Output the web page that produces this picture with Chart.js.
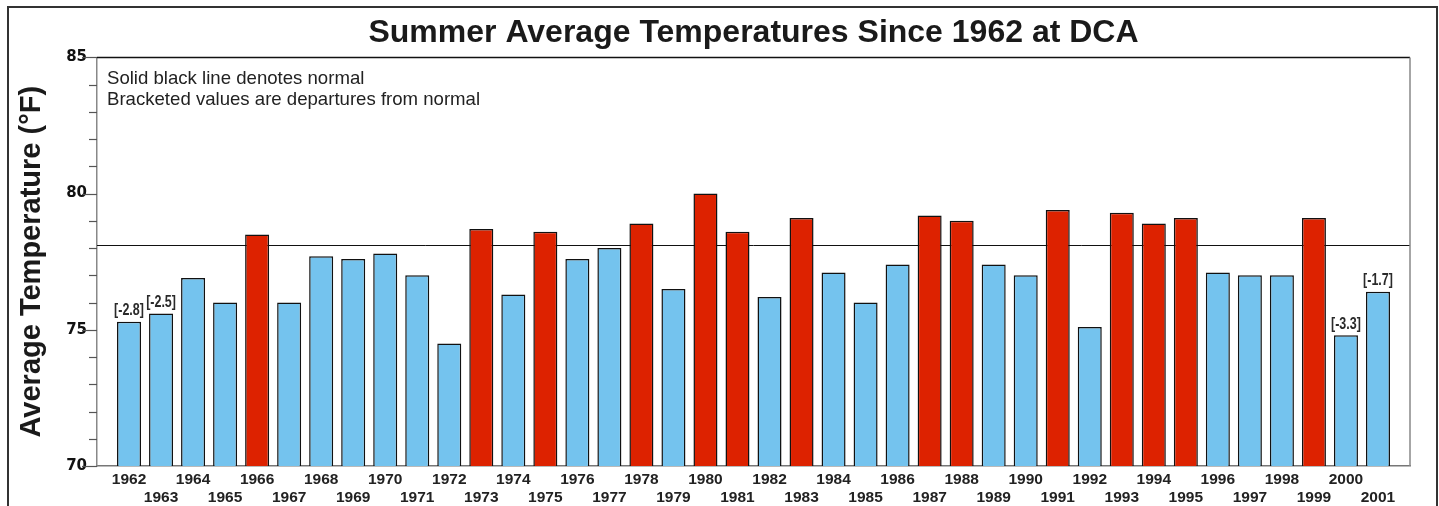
<!DOCTYPE html>
<html>
<head>
<meta charset="utf-8">
<script src="https://cdn.jsdelivr.net/npm/chart.js@4.4.1/dist/chart.umd.min.js"></script>
<style>
  html, body { margin: 0; padding: 0; background: #fff; overflow: hidden; }
  #wrap { width: 1439px; height: 506px; position: relative; }
</style>
</head>
<body>
<div id="wrap"><canvas id="c"></canvas></div>
<script>
// ---- data ----
const years = [1962, 1963, 1964, 1965, 1966, 1967, 1968, 1969, 1970, 1971,
               1972, 1973, 1974, 1975, 1976, 1977, 1978, 1979, 1980, 1981,
               1982, 1983, 1984, 1985, 1986, 1987, 1988, 1989, 1990, 1991,
               1992, 1993, 1994, 1995, 1996, 1997, 1998, 1999, 2000, 2001];
const temps = [75.3, 75.6, 76.9, 76.0, 78.5, 76.0, 77.7, 77.6, 77.8, 77.0,
               74.5, 78.7, 76.3, 78.6, 77.6, 78.0, 78.9, 76.5, 80.0, 78.6,
               76.2, 79.1, 77.1, 76.0, 77.4, 79.2, 79.0, 77.4, 77.0, 79.4,
               75.1, 79.3, 78.9, 79.1, 77.1, 77.0, 77.0, 79.1, 74.8, 76.4];
const normalTemp = 78.1;
const labeledYears = [1962, 1963, 2000, 2001];
const departureLabels = ['[-2.8]', '[-2.5]', '[-3.3]', '[-1.7]'];
const yTickLabels = [70, 75, 80, 85];
const titleText = 'Summer Average Temperatures Since 1962 at DCA';
const yAxisTitle = 'Average Temperature (°F)';
const notes = ['Solid black line denotes normal', 'Bracketed values are departures from normal'];

const RED = '#DD2200';
const BLUE = '#74C3EE';

const barData = years.map((y, i) => ({ x: y, y: temps[i] }));

const decorPlugin = {
  id: 'decor',
  beforeDraw(chart) {
    const ctx = chart.ctx;
    ctx.save();
    ctx.fillStyle = '#fff';
    ctx.fillRect(0, 0, chart.width, chart.height);
    ctx.restore();
  },
  beforeDatasetsDraw(chart) {
    const { ctx, chartArea } = chart;
    const ys = chart.scales.y;
    const py = Math.round(ys.getPixelForValue(normalTemp)) + 0.5;
    ctx.save();
    ctx.strokeStyle = '#111';
    ctx.lineWidth = 1;
    ctx.beginPath();
    ctx.moveTo(chartArea.left, py);
    ctx.lineTo(chartArea.right, py);
    ctx.stroke();
    ctx.restore();
  },
  afterDraw(chart) {
    const { ctx, chartArea } = chart;
    const ys = chart.scales.y;
    ctx.save();
    // y tick marks
    ctx.strokeStyle = '#555';
    ctx.lineWidth = 1.2;
    ys.ticks.forEach(t => {
      const py = Math.round(ys.getPixelForValue(t.value)) + 0.5;
      const len = yTickLabels.includes(t.value) ? 15 : 8;
      ctx.beginPath();
      ctx.moveTo(chartArea.left - len, py);
      ctx.lineTo(chartArea.left, py);
      ctx.stroke();
    });
    // plot frame top (black) and right (gray)
    ctx.strokeStyle = '#111';
    ctx.lineWidth = 1.5;
    ctx.beginPath();
    ctx.moveTo(chartArea.left, chartArea.top);
    ctx.lineTo(chartArea.right, chartArea.top);
    ctx.stroke();
    ctx.strokeStyle = '#888';
    ctx.beginPath();
    ctx.moveTo(chartArea.right, chartArea.top);
    ctx.lineTo(chartArea.right, chartArea.bottom);
    ctx.stroke();
    // notes
    ctx.fillStyle = '#222';
    ctx.font = '18.6px "Liberation Sans", Arial, sans-serif';
    ctx.textAlign = 'left';
    ctx.textBaseline = 'alphabetic';
    notes.forEach((n, i) => ctx.fillText(n, chartArea.left + 10, chartArea.top + 27 + i * 21));
    // bracket departure labels (condensed)
    const meta = chart.getDatasetMeta(0);
    ctx.fillStyle = '#2a2a2a';
    ctx.font = 'bold 16px "Liberation Sans", Arial, sans-serif';
    ctx.textAlign = 'center';
    ctx.textBaseline = 'bottom';
    labeledYears.forEach((yr, k) => {
      const idx = years.indexOf(yr);
      const el = meta.data[idx];
      ctx.save();
      ctx.translate(el.x, el.y - 3);
      ctx.scale(0.78, 1);
      ctx.fillText(departureLabels[k], 0, 0);
      ctx.restore();
    });
    // outer frame
    ctx.strokeStyle = '#333';
    ctx.lineWidth = 2;
    ctx.strokeRect(8, 7, 1429, 520);
    ctx.restore();
  }
};

new Chart(document.getElementById('c'), {
  type: 'bar',
  data: {
    datasets: [{
      data: barData,
      backgroundColor: ctx => (ctx.raw && ctx.raw.y > normalTemp) ? RED : BLUE,
      borderColor: '#111',
      borderWidth: 1.5,
      barPercentage: 0.75,
      categoryPercentage: 1.0
    }]
  },
  options: {
    responsive: true,
    maintainAspectRatio: false,
    animation: false,
    devicePixelRatio: 1,
    layout: { padding: { left: 10, right: 29, top: 8, bottom: 0 } },
    plugins: {
      legend: { display: false },
      tooltip: { enabled: false },
      title: {
        display: true,
        text: titleText,
        fullSize: false,
        color: '#1a1a1a',
        font: { family: '"Liberation Sans", Arial, sans-serif', size: 32, weight: 'bold' },
        padding: { top: 6, bottom: 5 }
      }
    },
    scales: {
      x: {
        type: 'linear',
        offset: false,
        min: 1961,
        max: 2002,
        grid: { display: false, drawTicks: false, offset: false },
        border: { display: true, color: '#777', width: 1.5 },
        ticks: {
          stepSize: 1,
          autoSkip: false,
          maxRotation: 0,
          minRotation: 0,
          padding: 5,
          color: '#222',
          font: { family: '"Liberation Sans", Arial, sans-serif', size: 15.5, weight: 'bold', lineHeight: '18px' },
          callback: v => {
            if (v < years[0] || v > years[years.length - 1]) return '';
            return v % 2 === 0 ? String(v) : ['', String(v)];
          }
        },
        afterFit: s => { s.height = 40; }
      },
      y: {
        min: 70,
        max: 85,
        grid: { display: false, drawTicks: false },
        border: { display: true, color: '#888', width: 1.5 },
        ticks: {
          stepSize: 1,
          padding: 10,
          color: '#111',
          font: { family: '"DejaVu Sans", sans-serif', size: 15, weight: 'bold' },
          callback: v => yTickLabels.includes(v) ? String(v) : ''
        },
        title: {
          display: true,
          text: yAxisTitle,
          color: '#1a1a1a',
          font: { family: '"Liberation Sans", Arial, sans-serif', size: 29, weight: 'bold' },
          padding: { top: 5, bottom: 0 }
        },
        afterFit: s => { s.width = 87; }
      }
    }
  },
  plugins: [decorPlugin]
});
</script>
</body>
</html>
